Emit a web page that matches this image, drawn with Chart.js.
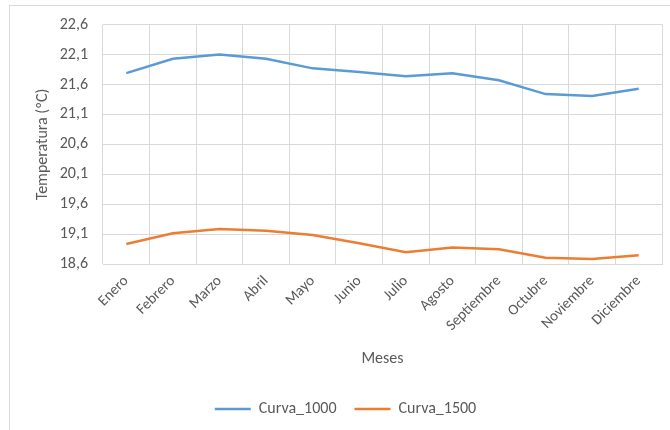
<!DOCTYPE html>
<html>
<head>
<meta charset="utf-8">
<script src="https://cdn.jsdelivr.net/npm/chart.js@4"></script>
<style>
  body { margin: 0; background: #fff; }
  #marco { position: absolute; left: 9px; top: 5px; width: 700px; height: 500px; border-left: 1px solid #d9d9d9; border-top: 1px solid #d9d9d9; }
  #c { position: absolute; left: 0; top: 0; }
</style>
</head>
<body>
<div id="marco"></div>
<canvas id="c" width="670" height="430"></canvas>
<script>
const meses = ['Enero', 'Febrero', 'Marzo', 'Abril', 'Mayo', 'Junio', 'Julio', 'Agosto', 'Septiembre', 'Octubre', 'Noviembre', 'Diciembre']
const curva1000 = [21.79, 22.03, 22.10, 22.03, 21.87, 21.81, 21.74, 21.79, 21.67, 21.44, 21.41, 21.53]
const curva1500 = [18.94, 19.12, 19.19, 19.16, 19.09, 18.95, 18.80, 18.88, 18.85, 18.71, 18.69, 18.75]
const yTicks = [18.6, 19.1, 19.6, 20.1, 20.6, 21.1, 21.6, 22.1, 22.6]

const gris = '#595959'

Chart.defaults.font.family = 'Carlito, "Liberation Sans", sans-serif'
Chart.defaults.color = gris

new Chart(document.getElementById('c'), {
    type: 'line',
    data: {
        labels: meses,
        datasets: [{
            label: 'Curva_1000',
            data: curva1000,
            borderColor: '#5B9BD5',
            backgroundColor: '#5B9BD5',
            borderWidth: 2.5,
            pointRadius: 0,
            tension: 0
        },
        {
            label: 'Curva_1500',
            data: curva1500,
            borderColor: '#ED7D31',
            backgroundColor: '#ED7D31',
            borderWidth: 2.5,
            pointRadius: 0,
            tension: 0
        }]
    },
    options: {
        responsive: false,
        animation: false,
        layout: { padding: { left: 29, right: 8, top: 23, bottom: 3 } },
        plugins: {
            legend: {
                position: 'bottom',
                labels: { usePointStyle: true, pointStyle: 'line', pointStyleWidth: 36, padding: 18, font: { size: 16 } }
            },
            tooltip: { enabled: false }
        },
        scales: {
            x: {
                offset: true,
                grid: { offset: true, color: '#d9d9d9', drawTicks: false },
                border: { color: '#d9d9d9' },
                ticks: { minRotation: 45, maxRotation: 45, padding: 8, font: { size: 15 } },
                title: { display: true, text: 'Meses', font: { size: 16 }, padding: { top: 7, bottom: 14 } }
            },
            y: {
                min: 18.6,
                max: 22.6,
                afterBuildTicks: axis => { axis.ticks = yTicks.map(v => ({ value: v })) },
                afterFit: axis => { axis.width = 74 },
                grid: { color: '#d9d9d9', drawTicks: false },
                border: { display: false },
                ticks: {
                    padding: 15,
                    font: { size: 16 },
                    callback: v => v.toFixed(1).replace('.', ',')
                },
                title: { display: true, text: 'Temperatura (ºC)', font: { size: 16 } }
            }
        }
    }
})
</script>
</body>
</html>
